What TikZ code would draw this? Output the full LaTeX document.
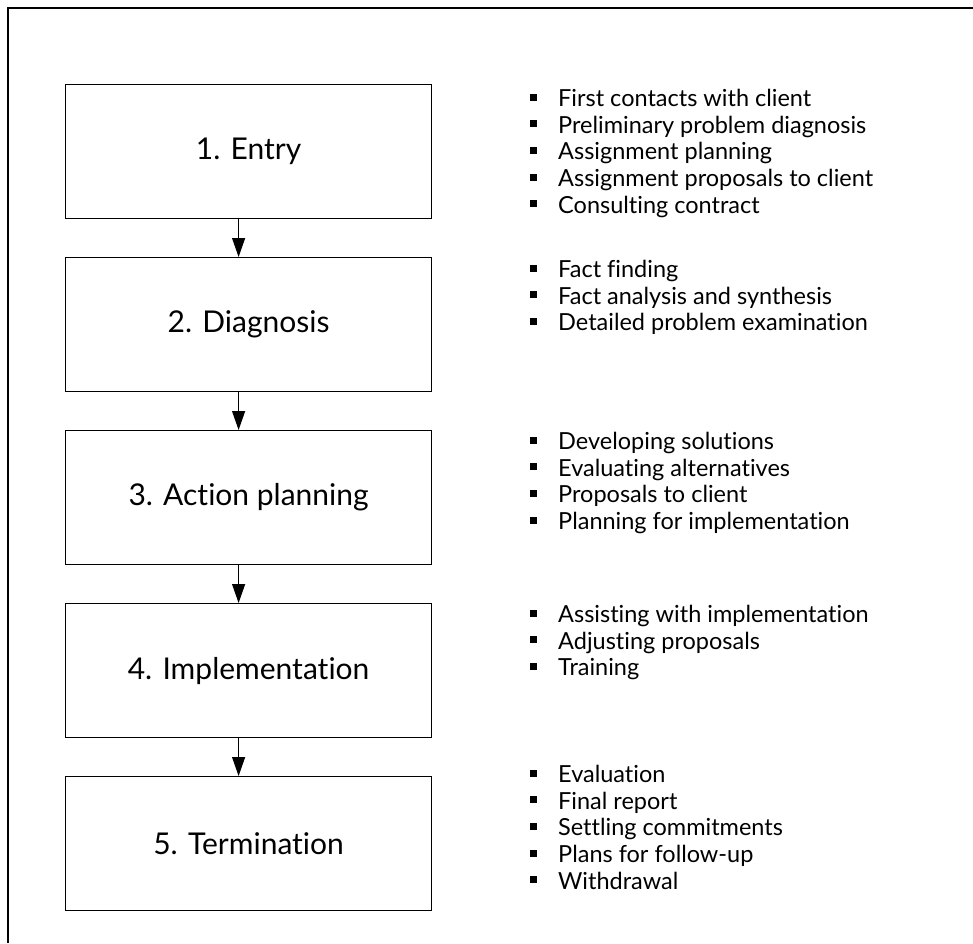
\documentclass[tikz,border=0pt]{standalone}
\usepackage{fontspec}
\setmainfont{Lato}[Ligatures=NoCommon]
\usetikzlibrary{arrows.meta}
\newcommand{\sqb}{\makebox[28pt][l]{\rule[6pt]{7pt}{7pt}}}
\tikzset{
  stage/.style={draw=black, line width=1.2pt, minimum width=366pt, minimum height=134pt,
    inner sep=0pt, anchor=north west, font=\fontsize{30}{34}\selectfont},
  items/.style={anchor=north west, align=left, inner sep=0pt,
    font=\fontsize{23.5}{26.7}\selectfont},
  flow/.style={line width=1.2pt, -{Triangle[width=13pt,length=19pt]}},
  frame/.style={line width=2.2pt}
}
\begin{document}
\begin{tikzpicture}[x=1pt,y=-1pt]
\useasboundingbox (0,0) rectangle (973,943);
\coordinate (ftop) at (973,8);
\coordinate (fcorner) at (8,8);
\coordinate (fbot) at (8,943);
\draw[frame] (ftop) -- (fcorner) -- (fbot);

\node[stage] (b1) at (65,84)  {1. Entry};
\node[stage] (b2) at (65,257) {2. Diagnosis};
\node[stage] (b3) at (65,430) {3. Action planning};
\node[stage] (b4) at (65,603) {4. Implementation};
\node[stage] (b5) at (65,776) {5. Termination};

\foreach \a/\b in {b1/b2,b2/b3,b3/b4,b4/b5}
  \draw[flow] ([xshift=-10pt]\a.south) -- ([xshift=-10pt]\b.north);

\node[items] (l1) at (530,89) {\sqb First contacts with client\\ \sqb Preliminary problem diagnosis\\ \sqb Assignment planning\\ \sqb Assignment proposals to client\\ \sqb Consulting contract};
\node[items] (l2) at (530,260) {\sqb Fact finding\\ \sqb Fact analysis and synthesis\\ \sqb Detailed problem examination};
\node[items] (l3) at (530,432) {\sqb Developing solutions\\ \sqb Evaluating alternatives\\ \sqb Proposals to client\\ \sqb Planning for implementation};
\node[items] (l4) at (530,605) {\sqb Assisting with implementation\\ \sqb Adjusting proposals\\ \sqb Training};
\node[items] (l5) at (530,765) {\sqb Evaluation\\ \sqb Final report\\ \sqb Settling commitments\\ \sqb Plans for follow-up\\ \sqb Withdrawal};
\end{tikzpicture}
\end{document}
